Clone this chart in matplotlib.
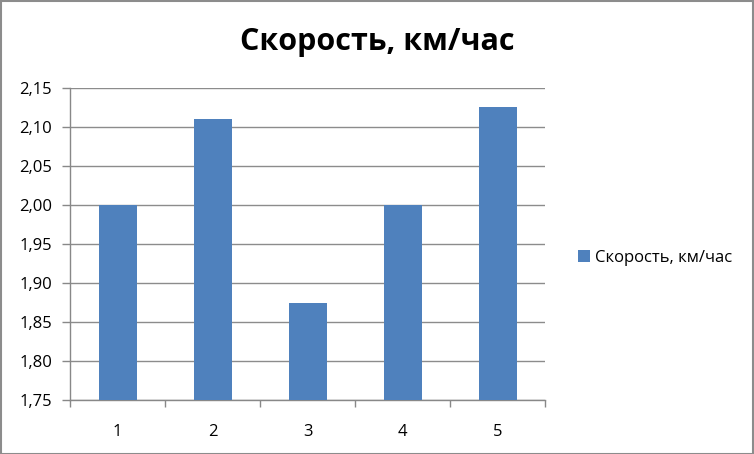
import matplotlib
matplotlib.use("Agg")
import matplotlib.pyplot as plt
from matplotlib.ticker import FuncFormatter, MultipleLocator
from matplotlib.patches import Rectangle

categories = ["1", "2", "3", "4", "5"]
values = [2.00, 2.11, 1.875, 2.00, 2.125]
series_name = "Скорость, км/час"
title = "Скорость, км/час"

plt.rcParams['font.family'] = ['Open Sans', 'DejaVu Sans']

W, H = 754, 454
fig = plt.figure(figsize=(W/100, H/100), dpi=100)
fig.patch.set_facecolor("white")
ax = fig.add_axes([70/W, 1-400/H, (545-70)/W, (400-88)/H])

x = list(range(len(categories)))
bars = ax.bar(x, [v - 1.75 for v in values], bottom=1.75, width=0.4,
              color="#4F81BD", label=series_name, zorder=3)
ax.set_xlim(-0.5, len(categories)-0.5)
ax.set_ylim(1.75, 2.15)
ax.yaxis.set_major_locator(MultipleLocator(0.05))
ax.yaxis.set_major_formatter(FuncFormatter(lambda v, p: f"{v:.2f}".replace(".", ",")))
ax.set_xticks(x)
ax.set_xticklabels(categories)
ax.set_xticks([i + 0.5 for i in range(-1, len(categories))], minor=True)
ax.tick_params(axis='x', which='major', length=0, pad=17, labelsize=12)
ax.tick_params(axis='x', which='minor', length=5, color="#888888", width=1)
ax.tick_params(axis='y', length=6, color="#888888", width=1, labelsize=12, pad=7)
ax.grid(axis='y', color="#8c8c8c", linewidth=1, zorder=0)
for s in ['top', 'right']:
    ax.spines[s].set_visible(False)
for s in ['left', 'bottom']:
    ax.spines[s].set_color("#888888")
    ax.spines[s].set_linewidth(1)

fig.text(377/W, 1-42/H, title, ha='center', va='center', fontsize=22, fontweight='bold')

fig.legend(handles=[bars], labels=[series_name], loc='center left',
           bbox_to_anchor=(563/W, 1-258/H), frameon=False, fontsize=12,
           handlelength=0.7, handleheight=0.7, handletextpad=0.3)

fig.patches.append(Rectangle((0.5/W, 0.5/H), 1-1.5/W, 1-1.5/H, transform=fig.transFigure,
                             fill=False, edgecolor="#8c8c8c", linewidth=1.5))

fig.savefig("out.png", dpi=100)
